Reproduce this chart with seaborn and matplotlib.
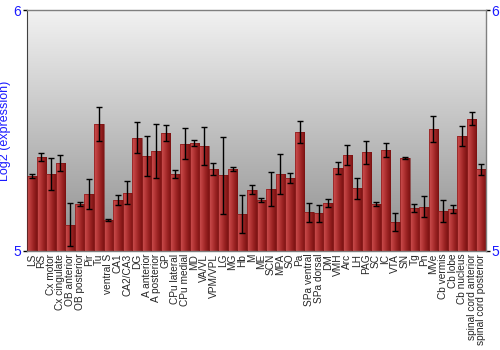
import numpy as np
import pandas as pd
import matplotlib.pyplot as plt
import seaborn as sns
from matplotlib.colors import LinearSegmentedColormap

sns.set_style("white")
plt.rcParams['font.family'] = ['Liberation Sans', 'DejaVu Sans']

# Data
regions = ["LS", "RS", "Cx motor", "Cx cingulate", "OB anterior", "OB posterior", "Pir", "Tu",
           "ventral S", "CA1", "CA2/CA3", "DG", "A anterior", "A posterior", "GP", "CPu lateral",
           "CPu medial", "MD", "VA/VL", "VPM/VPL", "LG", "MG", "Hb", "M", "ME", "SCN", "MPA", "SO",
           "Pa", "SPa ventral", "SPa dorsal", "DM", "VMH", "Arc", "LH", "PAG", "SC", "IC", "VTA",
           "SN", "Tg", "Pn", "MVe", "Cb vermis", "Cb lobe", "Cb nucleus", "spinal cord anterior",
           "spinal cord posterior"]
values = [5.311, 5.389, 5.318, 5.364, 5.109, 5.195, 5.235, 5.527,
          5.129, 5.212, 5.241, 5.470, 5.394, 5.414, 5.488, 5.320,
          5.445, 5.449, 5.436, 5.340, 5.315, 5.340, 5.154, 5.255, 5.212, 5.257, 5.320, 5.302,
          5.494, 5.160, 5.156, 5.198, 5.346, 5.397, 5.260, 5.409, 5.195, 5.419, 5.120,
          5.386, 5.178, 5.183, 5.506, 5.166, 5.174, 5.477, 5.549,
          5.339]
errors = [0.009, 0.017, 0.066, 0.034, 0.089, 0.010, 0.062, 0.072,
          0.003, 0.022, 0.048, 0.065, 0.084, 0.113, 0.033, 0.015,
          0.064, 0.013, 0.080, 0.026, 0.160, 0.009, 0.078, 0.019, 0.009, 0.069, 0.084, 0.021,
          0.047, 0.041, 0.034, 0.016, 0.025, 0.041, 0.045, 0.049, 0.009, 0.029, 0.039,
          0.006, 0.018, 0.044, 0.055, 0.044, 0.018, 0.040, 0.026,
          0.024]

df = pd.DataFrame({"region": regions, "value": values, "err": errors})

fig = plt.figure(figsize=(5, 3.5), dpi=100)
ax = fig.add_axes([0.054, 0.283, 0.918, 0.688])

sns.barplot(data=df, x="region", y="value", color="#b03030", width=1.0,
            edgecolor="#7a1010", linewidth=0.4, ax=ax, zorder=2)

ax.set_ylim(5, 6)
ax.set_xlim(-0.5, len(regions) - 0.5)

# background gradient (light at top, darker at bottom)
bg = LinearSegmentedColormap.from_list("bg", ["#8e8e8e", "#f2f2f2"])
ax.imshow(np.linspace(0, 1, 256).reshape(-1, 1), cmap=bg, aspect="auto",
          extent=[-0.5, len(regions) - 0.5, 5, 6], origin="lower", zorder=0)

# horizontal shading inside each bar
barcm = LinearSegmentedColormap.from_list("bar", ["#cc5050", "#b83a3a", "#9a2222", "#7e1414"])
grad = np.linspace(0, 1, 64).reshape(1, -1)
for p in ax.patches:
    x0, w = p.get_x(), p.get_width()
    im = ax.imshow(grad, cmap=barcm, aspect="auto",
                   extent=[x0, x0 + w, 5, p.get_height()], zorder=2.5)
    im.set_clip_path(p)
    p.set_zorder(2.6)
    p.set_facecolor("none")

# error bars
xs = [p.get_x() + p.get_width() / 2 for p in ax.patches]
ax.errorbar(xs, df["value"], yerr=df["err"], fmt="none", ecolor="black",
            elinewidth=1, capsize=2.2, capthick=1, zorder=3)
ax.set_xlim(-0.5, len(regions) - 0.5)
ax.set_ylim(5, 6)

ax.set_xlabel("")
ax.set_ylabel("Log2 (expression)", color="#1a1aff", fontsize=9, labelpad=2)
ax.set_yticks([5, 6])
ax.tick_params(axis="y", colors="black", labelcolor="#1a1aff", labelsize=10,
               length=3, width=1, direction="out", pad=1, left=True, right=True,
               labelleft=True, labelright=True)
ax.tick_params(axis="x", labelsize=7.3, length=0, pad=2)
plt.setp(ax.get_xticklabels(), rotation=90)

for s in ["top", "right", "bottom"]:
    ax.spines[s].set_color("#808080")
    ax.spines[s].set_linewidth(1)
ax.spines["left"].set_color("#404040")

plt.savefig("out.png", dpi=100)
